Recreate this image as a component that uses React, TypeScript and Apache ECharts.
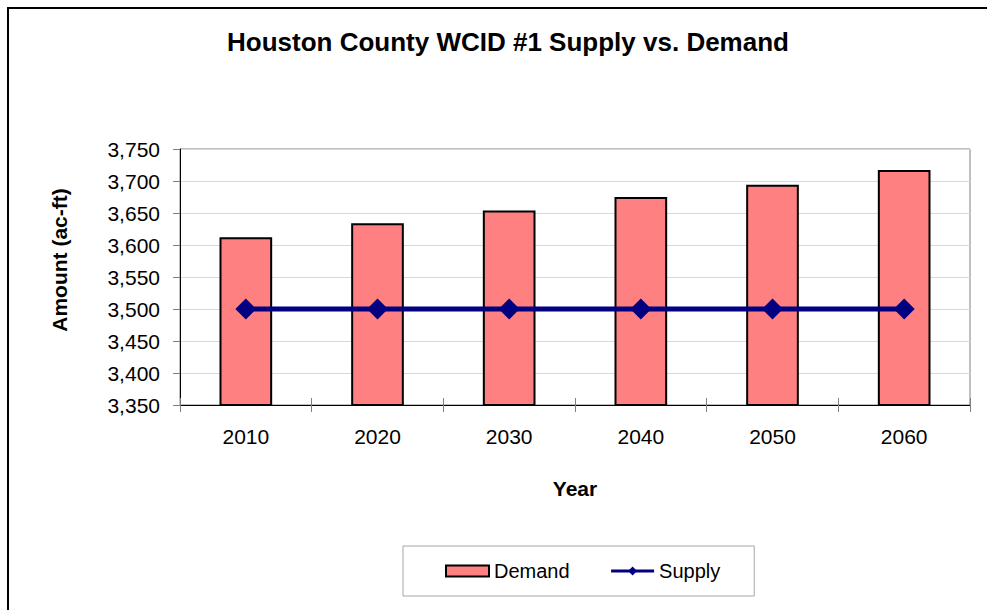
import React, { useEffect, useRef } from "react";
import * as echarts from "echarts";

const chartTitle = "Houston County WCID #1 Supply vs. Demand";
const xAxisTitle = "Year";
const yAxisTitle = "Amount (ac-ft)";
const years = ["2010", "2020", "2030", "2040", "2050", "2060"];
const demand = [3612, 3634, 3654, 3675, 3694, 3717];
const supply = [3500, 3500, 3500, 3500, 3500, 3500];
const yMin = 3350;
const yMax = 3750;
const yStep = 50;

const FONT = "'Liberation Sans', Arial, sans-serif";

export default function App() {
  const ref = useRef<HTMLDivElement>(null);
  useEffect(() => {
    if (!ref.current) return;
    const chart = echarts.init(ref.current, undefined, { renderer: "svg" });
    chart.setOption({
      animation: false,
      backgroundColor: "#ffffff",
      textStyle: { fontFamily: FONT },
      grid: {
        left: 180,
        top: 149,
        width: 790,
        height: 256,
        show: true,
        borderColor: "#808080",
        borderWidth: 1,
        containLabel: false,
      },
      legend: {
        left: 403,
        top: 546,
        padding: [15, 34, 15, 42],
        borderColor: "#a6a6a6",
        borderWidth: 1,
        itemWidth: 43,
        itemHeight: 11,
        itemGap: 40,
        textStyle: { fontFamily: FONT, fontSize: 20, color: "#000" },
        data: [
          { name: "Demand", icon: "rect" },
          { name: "Supply", lineStyle: { width: 3 } },
        ],
      },
      xAxis: [
        {
          type: "category",
          data: years,
          position: "bottom",
          axisLine: { show: true, lineStyle: { color: "#000", width: 1 } },
          axisTick: { show: true, length: 7, lineStyle: { color: "#808080" } },
          axisLabel: { fontFamily: FONT, fontSize: 21, color: "#000", margin: 21 },
          splitLine: { show: false },
        },
        {
          type: "category",
          data: years,
          position: "bottom",
          axisLine: { show: false },
          axisTick: { show: true, inside: true, length: 7, lineStyle: { color: "#808080" } },
          axisLabel: { show: false },
          splitLine: { show: false },
        },
      ],
      yAxis: {
        type: "value",
        min: yMin,
        max: yMax,
        interval: yStep,
        axisLine: { show: true, lineStyle: { color: "#000", width: 1 } },
        axisTick: { show: true, length: 7, lineStyle: { color: "#808080" } },
        axisLabel: {
          fontFamily: FONT,
          fontSize: 21,
          color: "#000",
          margin: 20,
          formatter: (v: number) => v.toLocaleString("en-US"),
        },
        splitLine: { show: true, lineStyle: { color: "#d9d9d9", width: 1 } },
      },
      series: [
        {
          name: "Demand",
          type: "bar",
          data: demand,
          barWidth: "40%",
          itemStyle: { color: "#FF8080", borderColor: "#000", borderWidth: 2 },
          z: 2,
        },
        {
          name: "Supply",
          type: "line",
          data: supply,
          symbol: "diamond",
          symbolSize: 21,
          lineStyle: { color: "#000080", width: 5 },
          itemStyle: { color: "#000080" },
          z: 3,
        },
      ],
      graphic: [
        {
          type: "rect",
          shape: { x: 8, y: 8, width: 1100, height: 800 },
          style: { fill: "none", stroke: "#000", lineWidth: 2 },
          silent: true,
          z: -1,
        },
        {
          type: "text",
          x: 508,
          y: 42,
          style: {
            text: chartTitle,
            fontFamily: FONT,
            fontSize: 26,
            fontWeight: "bold",
            fill: "#000",
            align: "center",
            verticalAlign: "middle",
          },
        },
        {
          type: "text",
          x: 575,
          y: 488,
          style: {
            text: xAxisTitle,
            fontFamily: FONT,
            fontSize: 21,
            fontWeight: "bold",
            fill: "#000",
            align: "center",
            verticalAlign: "middle",
          },
        },
        {
          type: "text",
          x: 59,
          y: 260,
          rotation: Math.PI / 2,
          style: {
            text: yAxisTitle,
            fontFamily: FONT,
            fontSize: 21,
            fontWeight: "bold",
            fill: "#000",
            align: "center",
            verticalAlign: "middle",
          },
        },
      ],
    });
    return () => chart.dispose();
  }, []);
  return (
    <div
      ref={ref}
      style={{ position: "fixed", left: 0, top: 0, width: 987, height: 610 }}
    />
  );
}
